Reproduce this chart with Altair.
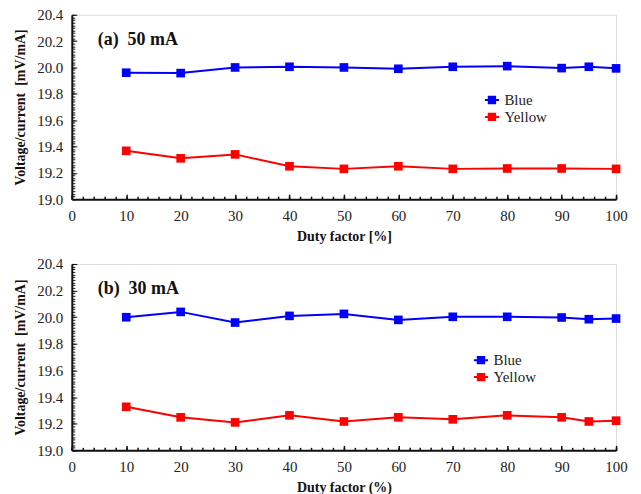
import altair as alt
import pandas as pd

# ---- data ----
series_names = ["Blue", "Yellow"]
series_colors = ["#0000FF", "#FF0000"]

top_duty_blue = [10, 20, 30, 40, 50, 60, 70, 80, 90, 95, 100]
top_blue = [19.96, 19.957, 20.0, 20.005, 20.0, 19.99, 20.005, 20.01, 19.995, 20.005, 19.993]
top_duty_yellow = [10, 20, 30, 40, 50, 60, 70, 80, 90, 100]
top_yellow = [19.367, 19.31, 19.34, 19.25, 19.23, 19.25, 19.23, 19.233, 19.233, 19.23]

bot_duty_blue = [10, 20, 30, 40, 50, 60, 70, 80, 90, 95, 100]
bot_blue = [20.0, 20.04, 19.96, 20.01, 20.025, 19.98, 20.003, 20.003, 19.998, 19.985, 19.99]
bot_duty_yellow = [10, 20, 30, 40, 50, 60, 70, 80, 90, 95, 100]
bot_yellow = [19.327, 19.248, 19.21, 19.263, 19.217, 19.248, 19.233, 19.263, 19.248, 19.217, 19.223]

x_major = list(range(0, 101, 10))
x_minor = list(range(0, 101, 2))
y_major = [19.0, 19.2, 19.4, 19.6, 19.8, 20.0, 20.2, 20.4]
y_minor = [round(19.0 + 0.02 * i, 2) for i in range(71)]

FONT = "Liberation Serif, Times New Roman, serif"
W = 546


def make_df(db, vb, dy, vy):
    rows = [{"duty": d, "v": v, "series": "Blue"} for d, v in zip(db, vb)]
    rows += [{"duty": d, "v": v, "series": "Yellow"} for d, v in zip(dy, vy)]
    return pd.DataFrame(rows)


def panel(df, label, xtitle, lx, ly, h):
    xs = alt.Scale(domain=[0, 100], nice=False, zero=False)
    ys = alt.Scale(domain=[19.0, 20.4], nice=False, zero=False)
    color = alt.Color(
        "series:N",
        scale=alt.Scale(domain=series_names, range=series_colors),
        legend=alt.Legend(
            title=None, orient="none", legendX=lx, legendY=ly,
            symbolType="M-1,0L1,0M-0.45,-0.45L0.45,-0.45L0.45,0.45L-0.45,0.45Z",
            symbolSize=200, symbolStrokeWidth=2, labelFont=FONT, labelFontSize=15,
            labelColor="#222", rowPadding=0, symbolOpacity=1,
        ),
    )
    main_x = alt.X("duty:Q", scale=xs, axis=alt.Axis(
        orient="bottom", values=x_major, ticks=False, domain=True, domainColor="#111",
        domainWidth=2, labelFont=FONT, labelFontSize=15, labelColor="#222",
        labelFlush=False, labelPadding=9, title=xtitle, titleFont=FONT,
        titleFontSize=14, titleFontWeight="bold", titleColor="#111", titlePadding=6,
        grid=False))
    main_y = alt.Y("v:Q", scale=ys, axis=alt.Axis(
        orient="left", values=y_major, format=".1f", ticks=False, domain=True,
        domainColor="#111", domainWidth=2, labelFont=FONT, labelFontSize=15,
        labelColor="#222", labelFlush=False, labelPadding=9,
        title="Voltage/current\u00a0\u00a0[mV/mA]", titleFont=FONT, titleFontSize=14,
        titleFontWeight="bold", titleColor="#111", titlePadding=9, grid=False))
    pts = alt.Chart(df).mark_point(shape="square", filled=True, size=75, opacity=1).encode(
        x=main_x, y=main_y, color=color)
    lines = alt.Chart(df).mark_line(strokeWidth=2).encode(
        x=alt.X("duty:Q", scale=xs, axis=None),
        y=alt.Y("v:Q", scale=ys, axis=None),
        color=color, detail="series:N")

    def ticks_layer(xv, yv, size):
        return alt.Chart(df).mark_point(opacity=0).encode(
            x=alt.X("duty:Q", scale=xs, axis=alt.Axis(
                orient="bottom", values=xv, labels=False, domain=False, ticks=True,
                tickSize=size, offset=-size, tickColor="#111", tickWidth=1.5,
                title=None, grid=False)),
            y=alt.Y("v:Q", scale=ys, axis=alt.Axis(
                orient="left", values=yv, labels=False, domain=False, ticks=True,
                tickSize=size, offset=-size, tickColor="#111", tickWidth=1,
                title=None, grid=False)),
        )

    major = ticks_layer(x_major, y_major, 5)
    minor = ticks_layer(x_minor, y_minor, 3)
    txt = alt.Chart(pd.DataFrame({"t": [label]})).mark_text(
        align="left", baseline="alphabetic", font=FONT, fontSize=18,
        fontWeight="bold", color="#111").encode(
        text="t:N", x=alt.value(26), y=alt.value(30))
    return (
        alt.layer(pts, lines, major, minor, txt)
        .resolve_axis(x="independent", y="independent")
        .properties(width=W, height=h)
    )


top = panel(make_df(top_duty_blue, top_blue, top_duty_yellow, top_yellow),
            "(a)\u00a0\u00a050 mA", "Duty factor [%]", 413, 77, 185)
bot = panel(make_df(bot_duty_blue, bot_blue, bot_duty_yellow, bot_yellow),
            "(b)\u00a0\u00a030 mA", "Duty factor (%)", 402, 88, 187)

chart = (
    alt.vconcat(top, bot, spacing=12)
    .resolve_scale(color="independent")
    .resolve_legend(color="independent")
    .properties(padding={"left": 5, "top": -2, "right": 5, "bottom": 0})
    .configure_view(stroke="#111", strokeWidth=1.5)
    .configure_axis(grid=False)
    .configure(background="white")
)

chart.save("out.html", embed_options={"renderer": "svg", "actions": False})
